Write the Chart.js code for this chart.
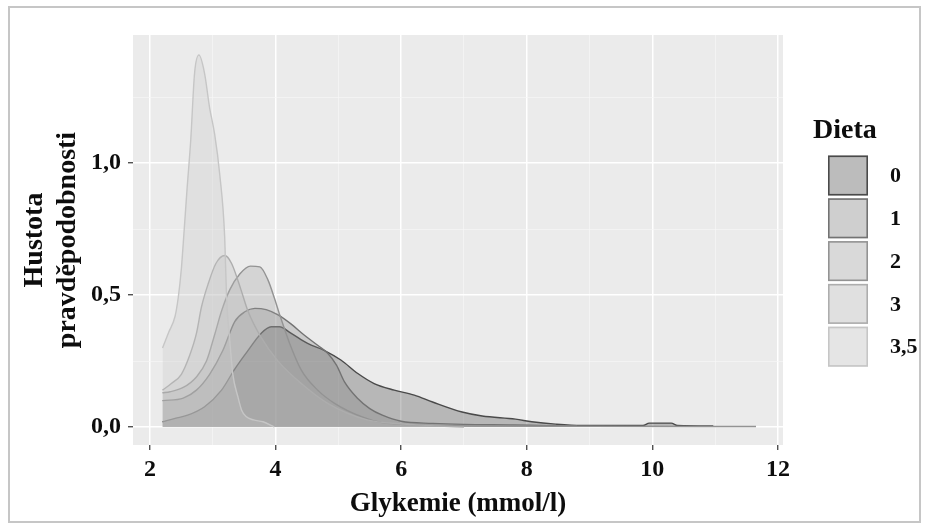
<!DOCTYPE html>
<html><head><meta charset="utf-8">
<script src="https://cdn.jsdelivr.net/npm/chart.js@4.4.1/dist/chart.umd.min.js"></script>
<style>
html,body{margin:0;padding:0;background:#fff;}
#wrap{position:relative;width:925px;height:529px;}
#frame{position:absolute;left:8px;top:6px;width:913px;height:517px;border:2px solid #c6c6c6;box-sizing:border-box;pointer-events:none;}
canvas{position:absolute;left:0;top:0;}
</style></head><body>
<div id="wrap"><canvas id="c" width="925" height="529"></canvas><div id="frame"></div></div>
<script>
// ---- data ----
const dietLabels = ['0', '1', '2', '3', '3,5'];

const x0 = [2.2,2.4,2.6,2.87,3.14,3.35,3.56,3.77,3.93,4.06,4.25,4.51,4.78,5.04,5.31,5.57,5.89,6.21,6.5,6.97,7.29,7.82,8.08,8.46,8.87,9.85,9.95,10.3,10.4,10.97];
const y0 = [0.02,0.033,0.045,0.077,0.14,0.22,0.29,0.355,0.38,0.38,0.355,0.317,0.29,0.254,0.203,0.165,0.14,0.121,0.095,0.057,0.042,0.03,0.02,0.011,0.006,0.006,0.015,0.015,0.006,0.004];

const x1 = [2.2,2.53,2.74,2.95,3.16,3.35,3.51,3.67,3.85,4.04,4.25,4.45,4.67,4.83,4.97,5.1,5.3,5.5,5.7,6.0,6.5,7.0,7.8,8.2,8.8];
const y1 = [0.10,0.11,0.14,0.20,0.29,0.40,0.437,0.45,0.445,0.425,0.39,0.35,0.31,0.28,0.235,0.17,0.11,0.07,0.045,0.022,0.014,0.01,0.008,0.006,0.003];

const x2 = [2.2,2.32,2.53,2.74,2.9,3.03,3.14,3.27,3.43,3.6,3.75,3.88,3.98,4.06,4.22,4.41,4.67,4.94,5.36,5.73,6.3,7.5,9.0,11.65];
const y2 = [0.13,0.134,0.15,0.19,0.25,0.35,0.44,0.52,0.58,0.61,0.607,0.557,0.49,0.43,0.32,0.216,0.14,0.09,0.04,0.015,0.008,0.004,0.003,0.002];

const x3 = [2.2,2.34,2.5,2.63,2.74,2.82,2.93,3.05,3.19,3.3,3.45,3.56,3.77,4.04,4.41,4.83,5.46,6.0,6.6,7.0];
const y3 = [0.14,0.165,0.20,0.27,0.355,0.455,0.545,0.62,0.65,0.62,0.52,0.44,0.34,0.25,0.165,0.09,0.027,0.012,0.004,0.0];

const x35 = [2.2,2.3,2.4,2.45,2.5,2.54,2.59,2.65,2.71,2.78,2.87,2.95,3.03,3.11,3.19,3.22,3.27,3.32,3.4,3.46,3.53,3.65,3.8,3.98];
const y35 = [0.30,0.36,0.42,0.49,0.60,0.73,0.90,1.09,1.34,1.41,1.34,1.21,1.11,0.96,0.72,0.49,0.33,0.20,0.115,0.064,0.04,0.027,0.02,0.0];

const xTicks = [2,3,4,5,6,7,8,9,10,11,12];
const yTicks = [0,0.25,0.5,0.75,1.0,1.25];

// ---- styles ----
const seriesX = [x0, x1, x2, x3, x35];
const seriesY = [y0, y1, y2, y3, y35];
const fillColors = ['rgba(62,62,62,0.3)','rgba(125,125,125,0.3)','rgba(159,159,159,0.3)','rgba(182,182,182,0.3)','rgba(199,199,199,0.3)'];
const lineColors = ['#4a4a4a','#737373','#939393','#adadad','#c6c6c6'];
const FAM = "'Liberation Serif','DejaVu Serif',serif";
const TXT = '#0d0d0d';

const isMajorX = v => Math.abs(v % 2) < 1e-9;
const isMajorY = v => Math.abs(v * 2 - Math.round(v * 2)) < 1e-9;

const panelBg = {
  id: 'panelBg',
  beforeDraw(chart) {
    const {ctx, chartArea: a} = chart;
    ctx.save();
    ctx.fillStyle = '#ebebeb';
    ctx.fillRect(a.left, a.top, a.right - a.left, a.bottom - a.top);
    ctx.restore();
  }
};

const legendBox = {
  id: 'legendBox',
  afterDraw(chart) {
    const ctx = chart.ctx;
    ctx.save();
    ctx.textBaseline = 'middle';
    ctx.textAlign = 'left';
    ctx.fillStyle = TXT;
    ctx.font = 'bold 28px ' + FAM;
    ctx.fillText('Dieta', 813, 131);
    chart.data.datasets.forEach((ds, i) => {
      const top = 155.5 + i * 42.8;
      ctx.fillStyle = '#f2f2f2';
      ctx.fillRect(828, top, 40, 40);
      ctx.fillStyle = ds.backgroundColor;
      ctx.fillRect(828, top, 40, 40);
      ctx.strokeStyle = ds.borderColor;
      ctx.lineWidth = 1.6;
      ctx.strokeRect(828.8, top + 0.8, 38.4, 38.4);
      ctx.fillStyle = TXT;
      ctx.font = 'bold 22px ' + FAM;
      ctx.fillText(ds.label, 890, top + 21);
    });
    ctx.restore();
  }
};

new Chart(document.getElementById('c'), {
  type: 'line',
  data: {
    datasets: dietLabels.map((lab, i) => ({
      label: lab,
      data: seriesX[i].map((x, j) => ({x: x, y: seriesY[i][j]})),
      fill: 'origin',
      backgroundColor: fillColors[i],
      borderColor: lineColors[i],
      borderWidth: 1.4,
      pointRadius: 0,
      cubicInterpolationMode: 'monotone',
      order: dietLabels.length - 1 - i
    }))
  },
  options: {
    responsive: false,
    animation: false,
    devicePixelRatio: 1,
    layout: {padding: {left: 0, right: 142, top: 35, bottom: 0}},
    plugins: {legend: {display: false}, tooltip: {enabled: false}},
    scales: {
      x: {
        type: 'linear', min: 1.73, max: 12.08,
        afterBuildTicks: s => { s.ticks = xTicks.map(v => ({value: v})); },
        afterFit: s => { s.height = 84; },
        ticks: {
          callback: v => isMajorX(v) ? String(v) : '',
          font: {family: FAM, size: 24, weight: 'bold', lineHeight: 1.2}, color: TXT,
          padding: 5, maxRotation: 0, autoSkip: false
        },
        grid: {
          color: c => isMajorX(c.tick.value) ? '#ffffff' : '#f7f7f7',
          lineWidth: c => isMajorX(c.tick.value) ? 1.5 : 0.7,
          tickColor: c => isMajorX(c.tick.value) ? '#333333' : 'rgba(0,0,0,0)',
          tickLength: 5, tickWidth: 1.2
        },
        border: {display: false},
        title: {
          display: true, text: 'Glykemie (mmol/l)', color: TXT,
          font: {family: FAM, size: 27, weight: 'bold', lineHeight: 1.2},
          padding: {top: 0, bottom: 9}
        }
      },
      y: {
        type: 'linear', min: -0.068, max: 1.486,
        afterBuildTicks: s => { s.ticks = yTicks.map(v => ({value: v})); },
        afterFit: s => { s.width = 133; },
        ticks: {
          callback: v => isMajorY(v) ? v.toFixed(1).replace('.', ',') : '',
          font: {family: FAM, size: 24, weight: 'bold'}, color: TXT,
          padding: 7, autoSkip: false
        },
        grid: {
          color: c => isMajorY(c.tick.value) ? '#ffffff' : '#f7f7f7',
          lineWidth: c => isMajorY(c.tick.value) ? 1.5 : 0.7,
          tickColor: c => isMajorY(c.tick.value) ? '#333333' : 'rgba(0,0,0,0)',
          tickLength: 5, tickWidth: 1.2
        },
        border: {display: false},
        title: {
          display: true, text: ['Hustota', 'pravděpodobnosti'], color: TXT,
          font: {family: FAM, size: 28, weight: 'bold', lineHeight: 1.18},
          padding: {top: 18.5, bottom: 0}
        }
      }
    }
  },
  plugins: [panelBg, legendBox]
});
</script>
</body></html>
